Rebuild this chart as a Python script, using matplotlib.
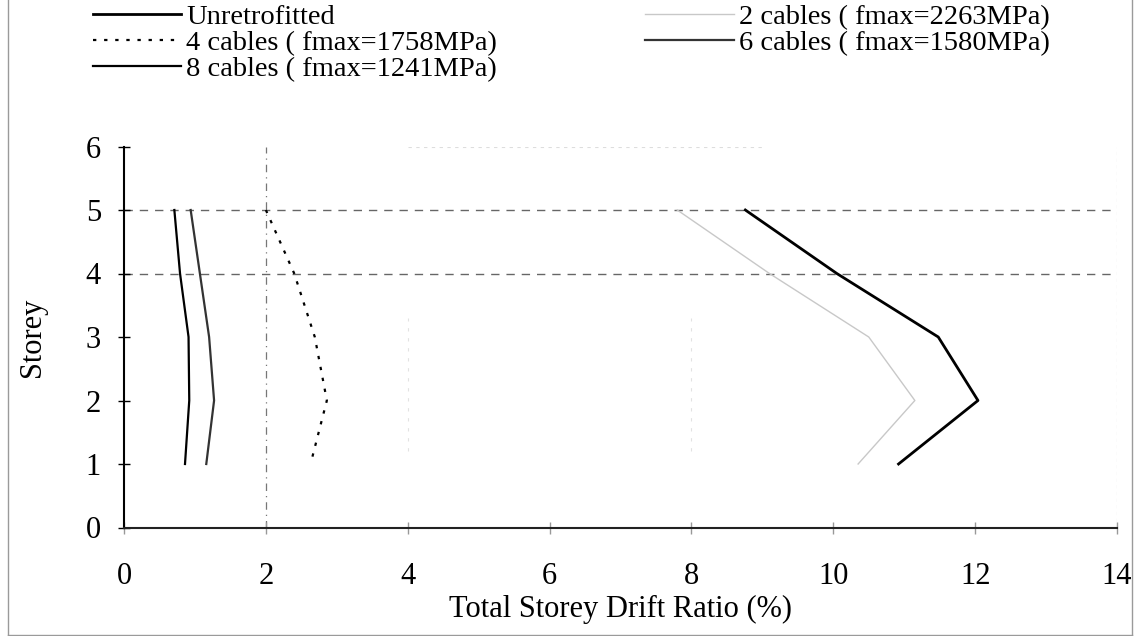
import matplotlib
matplotlib.use("Agg")
import matplotlib.pyplot as plt
from matplotlib.lines import Line2D

# Storey drift profiles (storey level vs. total storey drift ratio in %)
storeys = [5, 4, 3, 2, 1]
unretrofitted = [8.76, 10.05, 11.48, 12.04, 10.92]
cables_2 = [7.8, 9.1, 10.5, 11.15, 10.35]
cables_4 = [2.0, 2.4, 2.69, 2.86, 2.63]
cables_6 = [0.94, 1.07, 1.20, 1.27, 1.16]
cables_8 = [0.71, 0.79, 0.91, 0.92, 0.86]

series_labels = [
    "Unretrofitted",
    "2 cables ( fmax=2263MPa)",
    "4 cables ( fmax=1758MPa)",
    "6 cables ( fmax=1580MPa)",
    "8 cables ( fmax=1241MPa)",
]
x_ticks = [0, 2, 4, 6, 8, 10, 12, 14]
y_ticks = [0, 1, 2, 3, 4, 5, 6]

plt.rcParams["font.family"] = ["Liberation Serif", "DejaVu Serif"]
plt.rcParams["font.size"] = 22

fig = plt.figure(figsize=(11.35, 6.36), dpi=100)
ax = fig.add_axes([124 / 1135, 1 - 527.5 / 636, (1117 - 124) / 1135, (527.5 - 146.5) / 636])

# grid lines
for yv in [4, 5]:
    ax.axhline(yv, color="#666666", lw=1.0, ls=(0, (6, 5)), zorder=1)
ax.axvline(2, color="#777777", lw=0.9, ls=(0, (6, 4, 1, 4)), zorder=1)
ax.axhline(6, xmin=4 / 14, xmax=9 / 14, color="#dddddd", lw=0.8, ls=(0, (3, 4)), zorder=1)
for xv in [4, 8]:
    ax.axvline(xv, ymin=0.2, ymax=0.55, color="#e2e2e2", lw=0.8, ls=(0, (3, 6)), zorder=1)
ax.axvline(14, color="#bbbbbb", lw=0.8, ls=(0, (3, 3)), zorder=1)

h_un, = ax.plot(unretrofitted, storeys, color="black", lw=2.0, label=series_labels[0], zorder=3)
h_2, = ax.plot(cables_2, storeys, color="#c8c8c8", lw=1.0, label=series_labels[1], zorder=2)
h_4, = ax.plot(cables_4, storeys, color="black", lw=1.6, ls=(0, (1.5, 3.5)), label=series_labels[2], zorder=3)
h_6, = ax.plot(cables_6, storeys, color="#333333", lw=1.6, label=series_labels[3], zorder=3)
h_8, = ax.plot(cables_8, storeys, color="black", lw=1.6, label=series_labels[4], zorder=3)

ax.set_xlim(0, 14)
ax.set_ylim(0, 6)
ax.set_xticks(x_ticks)
ax.set_yticks(y_ticks)
ax.spines["top"].set_visible(False)
ax.spines["right"].set_visible(False)
ax.spines["left"].set_linewidth(1.5)
ax.spines["bottom"].set_linewidth(1.5)
ax.spines["bottom"].set_color("#222222")
ax.tick_params(axis="y", direction="inout", length=9, width=1, pad=12, labelsize=22)
ax.tick_params(axis="x", direction="inout", length=9, width=1, pad=20, labelsize=22)
ax.tick_params(axis="x", colors="#999999", labelcolor="black")

ax.set_xlabel("Total Storey Drift Ratio (%)", fontsize=22, labelpad=3)
ax.set_ylabel("Storey", fontsize=22, labelpad=28)

handles = [h_un, h_4, h_8, h_2, h_6]
fig.legend(handles, [h.get_label() for h in handles], ncol=2,
           loc="upper left", bbox_to_anchor=(93 / 1135, 1 - 4 / 636),
           frameon=False, fontsize=20.5, borderpad=0, borderaxespad=0,
           handlelength=3.1, handletextpad=0.18, labelspacing=0.0,
           columnspacing=5.2)

# page frame
for xs, ys in [([8 / 1135, 8 / 1135], [0, 1]), ([1132 / 1135, 1132 / 1135], [0, 1]),
               ([8 / 1135, 1132 / 1135], [0.6 / 636, 0.6 / 636])]:
    fig.add_artist(Line2D(xs, ys, transform=fig.transFigure, color="#9a9a9a", lw=1.0))

fig.savefig("out.png", dpi=100)
